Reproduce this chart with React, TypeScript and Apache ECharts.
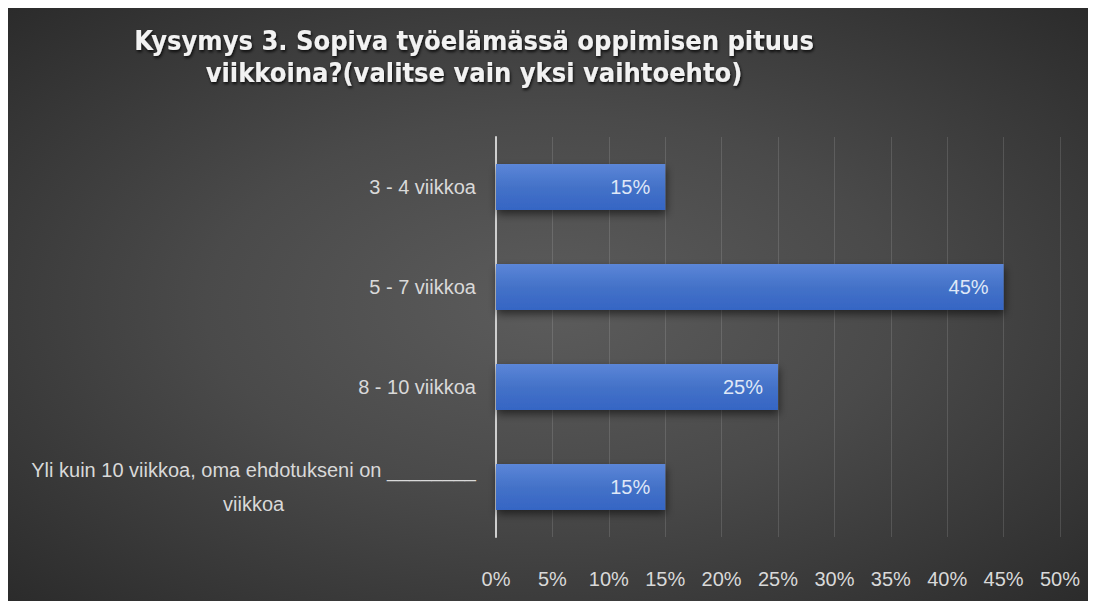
import React, { useEffect, useRef } from "react";
import * as echarts from "echarts";

const categories = [
  "3 - 4 viikkoa",
  "5 - 7 viikkoa",
  "8 - 10 viikkoa",
  "Yli kuin 10 viikkoa, oma ehdotukseni on ________\nviikkoa",
];
const values = [15, 45, 25, 15];
const titleText = "Kysymys 3. Sopiva työelämässä oppimisen pituus\nviikkoina?(valitse vain yksi vaihtoehto)";

const FONT = "'Liberation Sans Narrow', 'Arial Narrow', 'Liberation Sans', sans-serif";
const TITLE_FONT = "'DejaVu Sans Condensed', 'Liberation Sans', sans-serif";

export default function App() {
  const ref = useRef<HTMLDivElement>(null);
  useEffect(() => {
    if (!ref.current) return;
    const chart = echarts.init(ref.current, undefined, { renderer: "svg" });
    chart.setOption({
      animation: false,
      title: {
        text: titleText,
        left: 461,
        textAlign: "center",
        top: 11,
        textStyle: {
          color: "#f2f2f2",
          fontFamily: TITLE_FONT,
          fontWeight: "bold",
          fontSize: 27,
          lineHeight: 32,
          textShadowColor: "rgba(0,0,0,0.8)",
          textShadowBlur: 3,
          textShadowOffsetX: 1,
          textShadowOffsetY: 2,
        },
      },
      grid: { left: 488, right: 33, top: 129, bottom: 65, containLabel: false },
      xAxis: {
        type: "value",
        min: 0,
        max: 50,
        interval: 5,
        axisLine: { show: false },
        axisTick: { show: false },
        splitLine: { lineStyle: { color: "rgba(255,255,255,0.13)", width: 1 } },
        axisLabel: {
          formatter: "{value}%",
          color: "#d9d9d9",
          fontFamily: FONT,
          fontSize: 20,
          margin: 32,
        },
      },
      yAxis: {
        type: "category",
        data: categories,
        inverse: true,
        axisLine: { show: true, lineStyle: { color: "#cfcfcf", width: 2 } },
        axisTick: { show: false },
        axisLabel: {
          color: "#d9d9d9",
          fontFamily: FONT,
          fontSize: 20,
          margin: 20,
          lineHeight: 34,
          formatter: (v: string) => {
            const parts = v.split("\n");
            if (parts.length === 1) return v;
            return `{a|${parts[0]}}\n{b|${parts[1]}}`;
          },
          rich: {
            a: { color: "#d9d9d9", fontFamily: FONT, fontSize: 20, lineHeight: 34, align: "right" },
            b: { color: "#d9d9d9", fontFamily: FONT, fontSize: 20, lineHeight: 34, align: "center" },
          },
        },
      },
      series: [
        {
          type: "bar",
          data: values,
          barWidth: "46%",
          itemStyle: {
            color: new echarts.graphic.LinearGradient(0, 0, 0, 1, [
              { offset: 0, color: "#5b86d8" },
              { offset: 0.5, color: "#4472c8" },
              { offset: 1, color: "#3565c4" },
            ]),
            shadowColor: "rgba(0,0,0,0.55)",
            shadowBlur: 8,
            shadowOffsetY: 4,
            shadowOffsetX: 1,
          },
          label: {
            show: true,
            position: "insideRight",
            distance: 15,
            formatter: "{c}%",
            color: "#dfe7f7",
            fontFamily: FONT,
            fontSize: 20,
          },
        },
      ],
    });
    return () => chart.dispose();
  }, []);
  return (
    <div
      ref={ref}
      style={{
        width: 1085,
        height: 594,
        background: "radial-gradient(ellipse at 50% 50%, #5c5c5c 0%, #4a4a4a 45%, #2b2b2b 100%)",
      }}
    />
  );
}
